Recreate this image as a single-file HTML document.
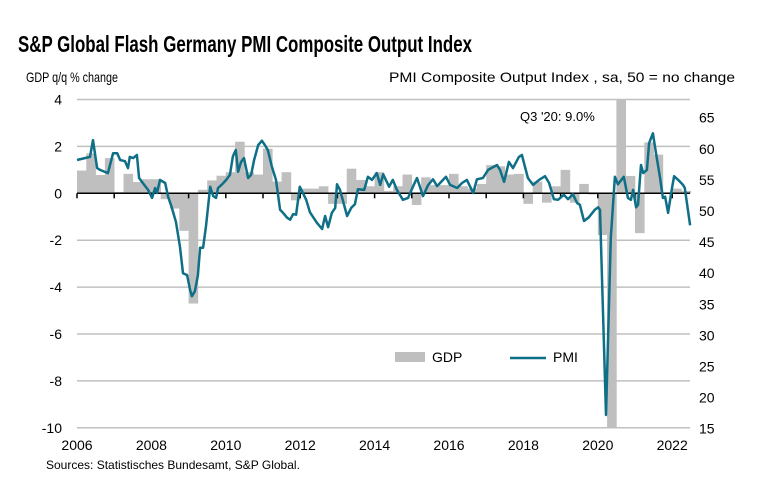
<!DOCTYPE html>
<html><head><meta charset="utf-8"><style>
body{margin:0;background:#fff;}
svg{display:block;font-family:"Liberation Sans",Arial,sans-serif;}
</style></head><body>
<svg id="chart" width="758" height="486" viewBox="0 0 758 486" xmlns="http://www.w3.org/2000/svg">
<text x="18" y="52" font-size="23" font-weight="bold" textLength="454" lengthAdjust="spacingAndGlyphs">S&amp;P Global Flash Germany PMI Composite Output Index</text>
<text x="26" y="82" font-size="14" textLength="92" lengthAdjust="spacingAndGlyphs">GDP q/q % change</text>
<text x="735" y="82" font-size="14" text-anchor="end" textLength="346" lengthAdjust="spacingAndGlyphs">PMI Composite Output Index , sa, 50 = no change</text>
<g id="grid"></g>
<g id="bars"></g>
<g id="axis"></g>
<g id="line"></g>
<text x="520" y="121" font-size="13">Q3 '20: 9.0%</text>
<g>
<rect x="395" y="352" width="30" height="10" fill="#bfbfbf"/>
<text x="432" y="362" font-size="14">GDP</text>
<line x1="510" y1="358" x2="546" y2="358" stroke="#0e6f87" stroke-width="2.5"/>
<text x="553" y="362" font-size="14">PMI</text>
</g>
<text x="46" y="469" font-size="12">Sources: Statistisches Bundesamt, S&amp;P Global.</text>
</svg>
<script>
const gdpValues=[0.97,1.7,0.78,1.5, 0.05,0.83,0.48,0.6, 0.6,-0.25,-0.65,-1.6, -4.7,0.15,0.55,0.75, 0.9,2.2,0.9,0.8, 1.9,0.5,0.9,-0.3, 0.2,0.2,0.3,-0.45, -0.45,1.05,0.57,0.3, 0.9,0.1,0.3,0.8, -0.5,0.68,0.35,0.35, 0.83,0.3,0.2,0.4, 1.2,1.15,0.8,0.83, -0.45,0.5,-0.4,0.3, 1.0,-0.4,0.4,-0.05, -1.78,-10.0,9.0,0.74, -1.7,2.17,1.65,0.0, 0.2,0.1];
const pmiDates=[2006.00,2006.35,2006.43,2006.54,2006.62,2006.83,2006.97,2007.08,2007.16,2007.29,2007.37,2007.42,2007.51,2007.61,2007.67,2007.77,2007.91,2008.02,2008.10,2008.15,2008.23,2008.37,2008.45,2008.55,2008.66,2008.77,2008.85,2008.96,2009.04,2009.09,2009.17,2009.25,2009.31,2009.39,2009.47,2009.58,2009.66,2009.74,2009.79,2009.90,2010.01,2010.11,2010.19,2010.27,2010.33,2010.41,2010.49,2010.60,2010.68,2010.76,2010.87,2010.97,2011.05,2011.13,2011.24,2011.35,2011.46,2011.54,2011.65,2011.73,2011.81,2011.89,2011.99,2012.16,2012.26,2012.45,2012.59,2012.67,2012.75,2012.85,2012.94,2012.99,2013.07,2013.26,2013.37,2013.47,2013.55,2013.72,2013.82,2013.93,2014.06,2014.15,2014.23,2014.39,2014.49,2014.60,2014.76,2014.90,2015.03,2015.14,2015.30,2015.44,2015.57,2015.68,2015.84,2015.92,2016.03,2016.22,2016.35,2016.48,2016.65,2016.75,2016.91,2017.05,2017.29,2017.37,2017.48,2017.61,2017.72,2017.88,2017.96,2018.12,2018.26,2018.42,2018.58,2018.69,2018.82,2018.93,2019.09,2019.20,2019.33,2019.44,2019.52,2019.63,2019.76,2019.92,2020.01,2020.06,2020.22,2020.35,2020.46,2020.54,2020.70,2020.81,2020.89,2020.95,2021.03,2021.08,2021.16,2021.22,2021.32,2021.38,2021.48,2021.56,2021.67,2021.75,2021.81,2021.89,2021.99,2022.05,2022.16,2022.29,2022.34,2022.48];
const pmiValues=[58.2,58.7,61.4,56.9,56.6,56.1,59.3,59.3,58.2,58.0,56.9,58.7,58.5,59.0,55.3,54.5,53.4,52.1,53.7,52.9,55.0,54.5,52.3,50.5,48.2,44.2,40.0,39.7,37.3,36.3,37.1,39.7,44.1,44.1,47.7,53.9,52.4,52.1,53.7,54.3,55.0,55.8,58.8,59.8,56.3,57.9,58.5,55.3,55.8,58.2,60.6,61.3,60.6,59.8,57.1,55.0,50.2,49.7,48.9,48.6,49.5,49.4,53.9,51.8,49.8,48.1,47.1,49.2,47.4,49.7,50.5,54.3,53.4,49.2,50.5,51.1,53.5,53.4,55.5,55.0,56.1,54.2,55.9,53.9,55.0,53.4,51.8,52.1,53.9,55.3,52.4,54.2,55.1,54.0,55.0,55.5,54.2,53.7,54.5,55.0,52.9,55.1,55.3,56.6,57.4,56.6,54.7,57.9,56.9,58.7,59.0,55.3,54.2,55.0,55.6,54.5,51.9,51.8,52.6,51.9,52.7,51.3,51.0,48.4,49.0,50.2,50.6,50.2,17.2,45.7,55.5,54.3,55.5,52.1,51.8,53.4,50.6,51.0,57.4,56.1,56.6,60.9,62.5,59.5,55.5,52.1,52.3,49.7,53.5,55.6,55.0,54.2,53.7,47.7];
const leftTicks=[4,2,0,-2,-4,-6,-8,-10];
const rightTicks=[65,60,55,50,45,40,35,30,25,20,15];
const yearTicks=[2006,2008,2010,2012,2014,2016,2018,2020,2022];

const NS="http://www.w3.org/2000/svg";
const X0=77, PXY=37.2, XR=690;
const xs=t=>X0+(t-2006)*PXY;
const yl=v=>193.3-v*23.45;
const yr=v=>211-(v-50)*6.22;
function mk(tag,attrs,parent,txt){const e=document.createElementNS(NS,tag);for(const k in attrs)e.setAttribute(k,attrs[k]);if(txt!==undefined)e.textContent=txt;parent.appendChild(e);return e;}
const gridG=document.getElementById('grid'),barsG=document.getElementById('bars'),axisG=document.getElementById('axis'),lineG=document.getElementById('line'),svgEl=document.getElementById('chart');
leftTicks.forEach(v=>{
  if(v!==0){const g=mk('line',{x1:X0,x2:XR,y1:yl(v),y2:yl(v),stroke:'#c0c0c0','stroke-width':1.5},gridG);
  
  }
  const t=mk('text',{x:62,y:yl(v)+5,'font-size':14,'text-anchor':'end'},svgEl,String(v));
  
  
});
rightTicks.forEach(v=>{
  const t=mk('text',{x:699,y:yr(v)+5,'font-size':14},svgEl,String(v));
  
  
});
gdpValues.forEach((v,i)=>{
  const t=2006+i*0.25;
  const c=Math.max(-10,Math.min(4,v));
  const y1=Math.min(yl(0),yl(c)),h=Math.abs(yl(c)-yl(0));
  const r=mk('rect',{x:xs(t),y:y1,width:PXY/4+0.3,height:h,fill:'#bfbfbf'},barsG);
  
  
});
mk('line',{x1:X0,x2:XR,y1:yl(0),y2:yl(0),stroke:'#000','stroke-width':1.5},axisG);
for(let y=2006;y<=2022;y++){
  const tk=mk('line',{x1:xs(y),x2:xs(y),y1:yl(0),y2:yl(0)+5,stroke:'#000','stroke-width':1.5},axisG);
  
  
}
yearTicks.forEach(y=>{
  const t=mk('text',{x:xs(y),y:450,'font-size':14,'text-anchor':'middle'},svgEl,String(y));
  
  
});
const d=pmiDates.map((t,i)=>(i?'L':'M')+xs(t).toFixed(1)+','+yr(pmiValues[i]).toFixed(1)).join('');
const p=mk('path',{d:d,fill:'none',stroke:'#0e6f87','stroke-width':2.5,'stroke-linejoin':'round'},lineG);


</script>
</body></html>
